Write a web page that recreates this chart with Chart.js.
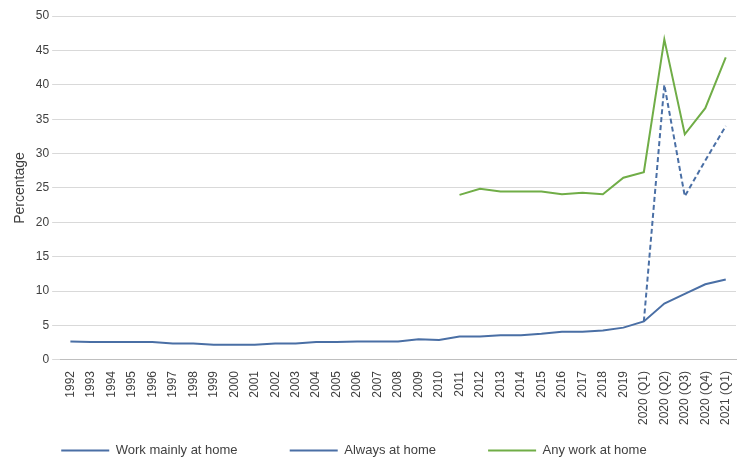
<!DOCTYPE html>
<html>
<head>
<meta charset="utf-8">
<script src="https://cdn.jsdelivr.net/npm/chart.js@4"></script>
<style>
  body { margin: 0; background: #fff; }
  #wrap { width: 754px; height: 473px; }
</style>
</head>
<body>
<div id="wrap"><canvas id="myChart"></canvas></div>
<script>
let years = [];
for (let y = 1992; y <= 2019; y++) years.push(String(y));
let labels = years.concat(["2020 (Q1)", "2020 (Q2)", "2020 (Q3)", "2020 (Q4)", "2021 (Q1)"]);

let mainlyHome = [2.7, 2.6, 2.6, 2.6, 2.6, 2.4, 2.4, 2.2, 2.2, 2.2, 2.4, 2.4, 2.6, 2.6, 2.7, 2.7, 2.7, 3.0, 2.9, 3.4, 3.4, 3.6, 3.6, 3.8, 4.1, 4.1, 4.3, 4.7, 5.6, 8.2, 9.6, 11.0, 11.7];
let alwaysHome = Array(28).fill(null).concat([5.6, 40.0, 23.8, 29.0, 34.0]);
let anyHome = Array(19).fill(null).concat([24.0, 24.9, 24.5, 24.5, 24.5, 24.1, 24.3, 24.1, 26.5, 27.3, 46.6, 32.8, 36.6, 44.0]);

Chart.defaults.font.family = "'Liberation Sans', Arial, sans-serif";
Chart.defaults.color = "#404040";

new Chart(document.getElementById("myChart"), {
  type: "line",
  data: {
    labels: labels,
    datasets: [
      { label: "Work mainly at home", data: mainlyHome, borderColor: "#4a6fa5", borderWidth: 2, pointRadius: 0, tension: 0 },
      { label: "Always at home", data: alwaysHome, borderColor: "#4a6fa5", borderDash: [5, 3], borderWidth: 2, pointRadius: 0, tension: 0 },
      { label: "Any work at home", data: anyHome, borderColor: "#70ad47", borderWidth: 2, pointRadius: 0, tension: 0 }
    ]
  },
  options: {
    responsive: true,
    maintainAspectRatio: false,
    animation: false,
    layout: { padding: { left: 8, right: 18, top: 16, bottom: 6 } },
    plugins: {
      legend: {
        position: "bottom",
        labels: { boxWidth: 48, boxHeight: 0, font: { size: 13 }, padding: 16,
          generateLabels: function(chart) {
            return chart.data.datasets.map((d, i) => ({
              text: d.label + "          ", strokeStyle: d.borderColor, fillStyle: d.borderColor,
              lineWidth: 2, lineDash: d.borderDash || [], datasetIndex: i, fontColor: "#404040"
            }));
          }
        }
      },
      tooltip: { enabled: false }
    },
    scales: {
      x: {
        offset: true,
        grid: { display: false },
        border: { color: "#bfbfbf" },
        ticks: { minRotation: 90, maxRotation: 90, autoSkip: false, font: { size: 12 } }
      },
      y: {
        min: 0, max: 50,
        ticks: { stepSize: 5, font: { size: 12 } },
        grid: { color: "#d9d9d9" },
        border: { display: false },
        title: { display: true, text: "Percentage", font: { size: 14 } }
      }
    }
  }
});
</script>
</body>
</html>
